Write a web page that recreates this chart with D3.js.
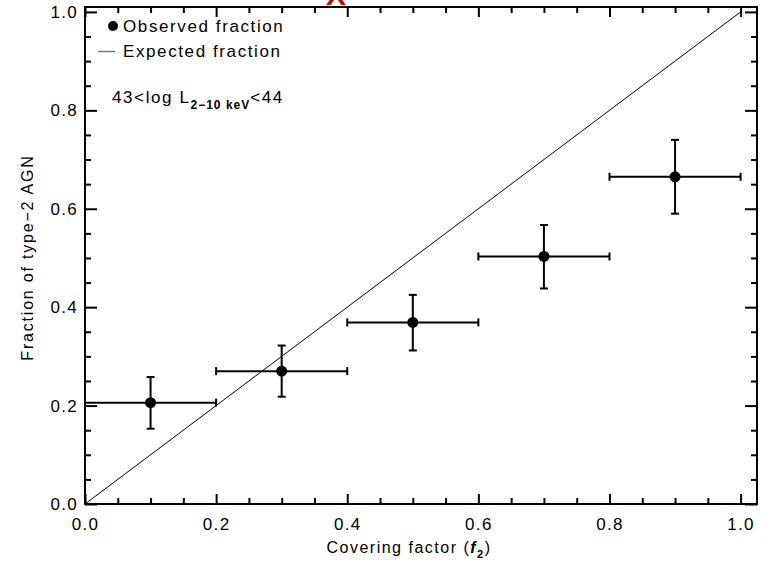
<!DOCTYPE html>
<head>
    <meta charset="utf-8">
    <script src="https://d3js.org/d3.v7.min.js"></script>
</head>
<style>
    body { margin: 0; background: #fff; }
    text { font-family: "Liberation Sans", Arial, sans-serif; fill: #000; }
    .axis path { stroke: none; }
    .axis line { stroke: #000; stroke-width: 2; }
    .axis text { font-size: 17px; letter-spacing: 1.3px; }
</style>
<body>
    <div id="chart"></div>
</body>

<script>
    // binned covering factor (centre, half width) and observed type-2 fraction
    const binCentre = [0.1, 0.3, 0.5, 0.7, 0.9];
    const binHalf   = [0.1, 0.1, 0.1, 0.1, 0.1];
    const fraction  = [0.206, 0.270, 0.369, 0.503, 0.665];
    const fracLow   = [0.153, 0.218, 0.312, 0.438, 0.590];
    const fracHigh  = [0.258, 0.322, 0.425, 0.567, 0.740];
    const expected  = [[0, 0], [1, 1]];
    const majorTicks = [0, 0.2, 0.4, 0.6, 0.8, 1.0];
    const minorTicks = d3.range(0, 1.0001, 0.05).filter(v => Math.round(v * 100) % 20 !== 0);

    const W = 768, H = 565;
    const svg = d3.select("#chart").append("svg")
        .attr("width", W).attr("height", H);

    const x = d3.scaleLinear().domain([0, 1.025]).range([85, 757]);
    const y = d3.scaleLinear().domain([0, 1.01]).range([504, 7]);

    // clipped red title letter at the very top
    svg.append("text")
        .attr("x", 336).attr("y", 5)
        .attr("text-anchor", "middle")
        .style("font-size", "30px").style("font-weight", "bold")
        .style("fill", "#9c1a0e")
        .text("X");

    // ticks on all four sides, pointing in
    svg.append("g").attr("class", "axis")
        .attr("transform", `translate(0,${y(0)})`)
        .call(d3.axisBottom(x).tickValues(majorTicks).tickSize(-10).tickPadding(14)
            .tickFormat(d3.format(".1f")));
    svg.append("g").attr("class", "axis")
        .attr("transform", `translate(0,${y(0)})`)
        .call(d3.axisBottom(x).tickValues(minorTicks).tickSize(-6).tickFormat(""));
    svg.append("g").attr("class", "axis")
        .attr("transform", `translate(0,${y(1.01)})`)
        .call(d3.axisTop(x).tickValues(majorTicks).tickSize(-10).tickFormat(""));
    svg.append("g").attr("class", "axis")
        .attr("transform", `translate(0,${y(1.01)})`)
        .call(d3.axisTop(x).tickValues(minorTicks).tickSize(-6).tickFormat(""));

    svg.append("g").attr("class", "axis")
        .attr("transform", `translate(${x(0)},0)`)
        .call(d3.axisLeft(y).tickValues(majorTicks).tickSize(-12).tickPadding(7)
            .tickFormat(d3.format(".1f")));
    svg.append("g").attr("class", "axis")
        .attr("transform", `translate(${x(0)},0)`)
        .call(d3.axisLeft(y).tickValues(minorTicks).tickSize(-6).tickFormat(""));
    svg.append("g").attr("class", "axis")
        .attr("transform", `translate(${x(1.025)},0)`)
        .call(d3.axisRight(y).tickValues(majorTicks).tickSize(-12).tickFormat(""));
    svg.append("g").attr("class", "axis")
        .attr("transform", `translate(${x(1.025)},0)`)
        .call(d3.axisRight(y).tickValues(minorTicks).tickSize(-6).tickFormat(""));

    // frame
    svg.append("rect")
        .attr("x", x(0)).attr("y", y(1.01))
        .attr("width", x(1.025) - x(0)).attr("height", y(0) - y(1.01))
        .attr("fill", "none").attr("stroke", "#000").attr("stroke-width", 2);

    // expected fraction: one-to-one line
    svg.append("path")
        .datum(expected)
        .attr("d", d3.line().x(d => x(d[0])).y(d => y(d[1])))
        .attr("fill", "none").attr("stroke", "#000").attr("stroke-width", 1);

    // observed points with error bars
    const pts = binCentre.map((c, i) => ({
        c: c, h: binHalf[i], f: fraction[i], lo: fracLow[i], hi: fracHigh[i]
    }));
    const g = svg.append("g").attr("stroke", "#000").attr("stroke-width", 2);
    pts.forEach(d => {
        g.append("line").attr("x1", x(d.c - d.h)).attr("x2", x(d.c + d.h))
            .attr("y1", y(d.f)).attr("y2", y(d.f));
        g.append("line").attr("x1", x(d.c)).attr("x2", x(d.c))
            .attr("y1", y(d.lo)).attr("y2", y(d.hi));
        [d.lo, d.hi].forEach(v => {
            g.append("line").attr("x1", x(d.c) - 4).attr("x2", x(d.c) + 4)
                .attr("y1", y(v)).attr("y2", y(v));
        });
        [d.c - d.h, d.c + d.h].forEach(v => {
            g.append("line").attr("x1", x(v)).attr("x2", x(v))
                .attr("y1", y(d.f) - 4).attr("y2", y(d.f) + 4);
        });
    });
    svg.selectAll(".pt")
        .data(pts)
        .join("circle")
        .attr("cx", d => x(d.c)).attr("cy", d => y(d.f))
        .attr("r", 5.5).attr("fill", "#000");

    // legend
    svg.append("circle").attr("cx", 113).attr("cy", 26).attr("r", 5).attr("fill", "#000");
    svg.append("text").attr("x", 123).attr("y", 32)
        .style("font-size", "17px").style("letter-spacing", "1.6px")
        .text("Observed fraction");
    svg.append("line").attr("x1", 98).attr("x2", 115).attr("y1", 51.5).attr("y2", 51.5)
        .attr("stroke", "#777").attr("stroke-width", 1.5);
    svg.append("text").attr("x", 123).attr("y", 57)
        .style("font-size", "17px").style("letter-spacing", "1.6px")
        .text("Expected fraction");

    // luminosity bin label
    const lum = svg.append("text").attr("x", 112).attr("y", 103)
        .style("font-size", "17px").style("letter-spacing", "1.6px");
    lum.append("tspan").text("43<log L");
    lum.append("tspan").attr("dy", 6).style("font-size", "12px").style("font-weight", "bold")
        .style("letter-spacing", "1px").text("2\u221210 keV");
    lum.append("tspan").attr("dy", -6).text("<44");

    // axis titles
    const xl = svg.append("text").attr("x", 409).attr("y", 553)
        .attr("text-anchor", "middle")
        .style("font-size", "16px").style("letter-spacing", "1.5px");
    xl.append("tspan").text("Covering factor (");
    xl.append("tspan").style("font-style", "italic").style("font-weight", "bold").text("f");
    xl.append("tspan").attr("dy", 5).style("font-size", "11px").style("font-weight", "bold").text("2");
    xl.append("tspan").attr("dy", -5).text(")");

    svg.append("text")
        .attr("transform", `translate(33,${(y(0) + y(1.01)) / 2 + 2}) rotate(-90)`)
        .attr("text-anchor", "middle")
        .style("font-size", "16px").style("letter-spacing", "1.8px")
        .text("Fraction of type\u22122 AGN");
</script>
